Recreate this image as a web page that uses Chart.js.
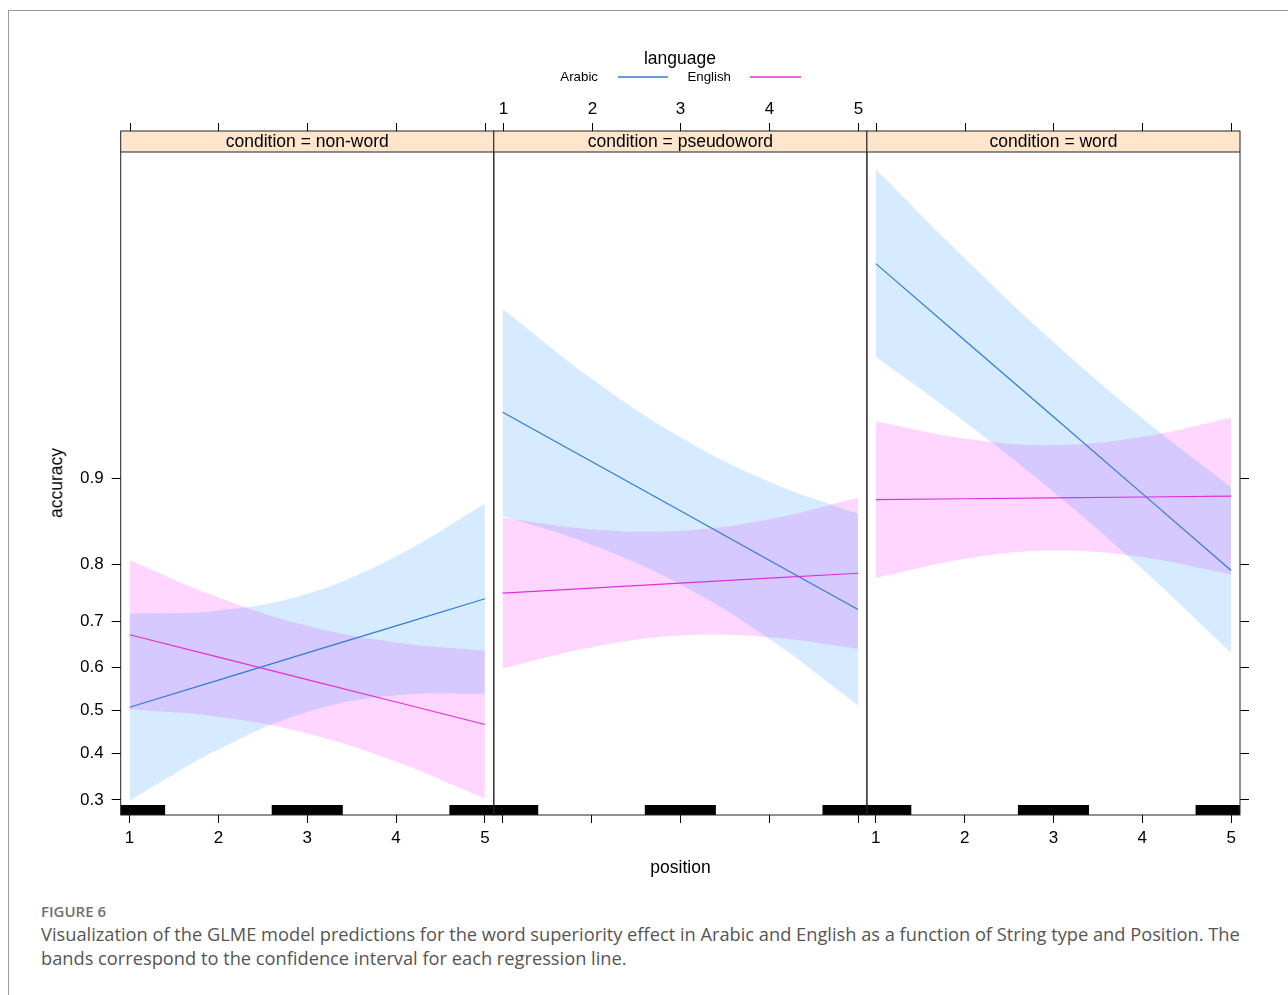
<!DOCTYPE html>
<html>
<head>
<meta charset="utf-8">
<script src="https://cdn.jsdelivr.net/npm/chart.js@4.4.1/dist/chart.umd.min.js"></script>
<style>
  body { margin: 0; background: #fff; }
  #page { position: relative; width: 1288px; height: 995px; overflow: hidden; font-family: "Liberation Sans", Arial, sans-serif; color: #000; }
  #chart { position: absolute; left: 0; top: 0; }
  .frame { position: absolute; left: 8px; top: 10px; width: 1290px; height: 990px; border-left: 1px solid #9a9a9a; border-top: 1px solid #9a9a9a; }
  .t { position: absolute; white-space: nowrap; line-height: 1; }
  .caption { position: absolute; left: 41px; font-family: "Open Sans", "Noto Sans", sans-serif; color: #555; white-space: nowrap; }
</style>
</head>
<body>
<div id="page">
  <div class="frame"></div>
  <canvas id="chart" width="1288" height="880"></canvas>

  <div class="t" style="left:680px; top:59px; font-size:17.5px; transform:translate(-50%,-50%);">language</div>
  <div class="t" style="left:598px; top:77px; font-size:13.3px; transform:translate(-100%,-50%);">Arabic</div>
  <div class="t" style="left:731px; top:77px; font-size:13.3px; transform:translate(-100%,-50%);">English</div>

  <div class="t" style="left:57px; top:483px; font-size:17.5px; transform:translate(-50%,-50%) rotate(-90deg);">accuracy</div>
  <div class="t" style="left:680.5px; top:868px; font-size:17.5px; transform:translate(-50%,-50%);">position</div>

  <div class="caption" style="top:901px; font-size:15px; font-weight:600; color:#707070;">FIGURE 6</div>
  <div class="caption" style="top:922px; font-size:18.25px; line-height:23.5px;">Visualization of the GLME model predictions for the word superiority effect in Arabic and English as a function of String type and Position. The<br>bands correspond to the confidence interval for each regression line.</div>
</div>

<script>
// categories and ticks
const positions = [1, 2, 3, 4, 5];
const conditions = ['non-word', 'pseudoword', 'word'];
const languages = ['Arabic', 'English'];
const accuracyTicks = [0.3, 0.4, 0.5, 0.6, 0.7, 0.8, 0.9];
const positionTicks = [1, 2, 3, 4, 5];
const rugPositions = [1, 3, 5];

// predicted accuracy (fit, upper and lower band) at positions 1..5
// condition = non-word
const nonwordArabicFit    = [0.5077, 0.5715, 0.6330, 0.6904, 0.7423];
const nonwordArabicUpper  = [0.7142, 0.7203, 0.7512, 0.8116, 0.8763];
const nonwordArabicLower  = [0.2986, 0.4085, 0.4963, 0.5359, 0.5394];
const nonwordEnglishFit   = [0.6720, 0.6237, 0.5725, 0.5200, 0.4668];
const nonwordEnglishUpper = [0.8058, 0.7446, 0.6904, 0.6559, 0.6381];
const nonwordEnglishLower = [0.5027, 0.4850, 0.4457, 0.3811, 0.3030];
// condition = pseudoword
const pseudoArabicFit     = [0.9440, 0.9136, 0.8689, 0.8058, 0.7223];
const pseudoArabicUpper   = [0.9782, 0.9587, 0.9301, 0.8973, 0.8657];
const pseudoArabicLower   = [0.8636, 0.8279, 0.7675, 0.6635, 0.5122];
const pseudoEnglishFit    = [0.7523, 0.7610, 0.7696, 0.7778, 0.7858];
const pseudoEnglishUpper  = [0.8612, 0.8478, 0.8458, 0.8596, 0.8824];
const pseudoEnglishLower  = [0.5980, 0.6454, 0.6704, 0.6668, 0.6422];
// condition = word
const wordArabicFit       = [0.9857, 0.9709, 0.9417, 0.8864, 0.7902];
const wordArabicUpper     = [0.9941, 0.9864, 0.9704, 0.9409, 0.8924];
const wordArabicLower     = [0.9661, 0.9391, 0.8880, 0.7926, 0.6332];
const wordEnglishFit      = [0.8806, 0.8814, 0.8823, 0.8831, 0.8839];
const wordEnglishUpper    = [0.9393, 0.9293, 0.9251, 0.9304, 0.9412];
const wordEnglishLower    = [0.7783, 0.8078, 0.8197, 0.8103, 0.7838];

const panelSeries = [
  [[nonwordArabicFit, nonwordArabicUpper, nonwordArabicLower], [nonwordEnglishFit, nonwordEnglishUpper, nonwordEnglishLower]],
  [[pseudoArabicFit, pseudoArabicUpper, pseudoArabicLower], [pseudoEnglishFit, pseudoEnglishUpper, pseudoEnglishLower]],
  [[wordArabicFit, wordArabicUpper, wordArabicLower], [wordEnglishFit, wordEnglishUpper, wordEnglishLower]]
];

// y axis is on the logit scale, like the effects plot
const logit = p => Math.log(p / (1 - p));
const yLogitRange = [-0.99, 5.29];

const FONT = '"Liberation Sans", Arial, sans-serif';
const lineColors = { Arabic: '#2f7bd8', English: '#e030d8' };
const bandColors = { Arabic: 'rgba(0,128,255,0.16)', English: 'rgba(255,0,255,0.16)' };
const panelAxes = ['x1', 'x2', 'x3'];
const STRIP = 21;

const toPoints = vals => vals.map((v, i) => ({ x: positions[i], y: logit(v) }));

const datasets = [];
panelSeries.forEach((pair, i) => {
  pair.forEach((s, j) => {
    datasets.push({
      label: languages[j] + ' ' + conditions[i],
      data: toPoints(s[0]),
      xAxisID: panelAxes[i], yAxisID: 'y',
      borderColor: lineColors[languages[j]], borderWidth: 1.2,
      pointRadius: 0, fill: false, tension: 0, order: 0
    });
  });
});
panelSeries.forEach((pair, i) => {
  pair.forEach((s, j) => {
    const lang = languages[j];
    datasets.push({
      label: lang + ' upper', data: toPoints(s[1]),
      xAxisID: panelAxes[i], yAxisID: 'y',
      borderColor: 'rgba(0,0,0,0)', borderWidth: 0, pointRadius: 0,
      backgroundColor: bandColors[lang], fill: '+1', tension: 0.4, order: 1
    });
    datasets.push({
      label: lang + ' lower', data: toPoints(s[2]),
      xAxisID: panelAxes[i], yAxisID: 'y',
      borderColor: 'rgba(0,0,0,0)', borderWidth: 0, pointRadius: 0,
      fill: false, tension: 0.4, order: 1
    });
  });
});

function xAxis(showLabels) {
  return {
    type: 'linear', position: 'bottom', stack: 'panels', stackWeight: 1,
    min: 0.9, max: 5.1,
    afterBuildTicks: s => { s.ticks = positionTicks.map(v => ({ value: v })); },
    afterFit: s => { s.height = 40; },
    grid: { drawOnChartArea: false, drawTicks: true, tickLength: 8, color: '#000', lineWidth: 1 },
    border: { display: false },
    ticks: { display: showLabels, autoSkip: false, maxRotation: 0, padding: 5, color: '#000',
             font: { family: FONT, size: 17 }, callback: v => String(v) }
  };
}

function yAxis(side) {
  return {
    type: 'linear', position: side, min: yLogitRange[0], max: yLogitRange[1],
    afterBuildTicks: s => { s.ticks = accuracyTicks.map(p => ({ value: logit(p) })); },
    afterFit: s => { s.width = side === 'left' ? 40 : 10; },
    grid: { drawOnChartArea: false, drawTicks: true, tickLength: 9, color: '#000', lineWidth: 1 },
    border: { display: false },
    ticks: { display: side === 'left', padding: 8, color: '#000', font: { family: FONT, size: 17 },
             callback: (v, i) => accuracyTicks[i].toFixed(1) }
  };
}

// strips, panel boxes, top axis, rug and legend keys
const latticeFrame = {
  id: 'latticeFrame',
  afterDatasetsDraw(chart) {
    const { ctx, chartArea } = chart;
    const top = chartArea.top, bottom = chartArea.bottom;
    const stripTop = top - STRIP;

    ctx.save();
    ctx.beginPath();
    ctx.rect(chartArea.left, top, chartArea.right - chartArea.left, bottom - top);
    ctx.clip();
    ctx.fillStyle = '#000';
    panelAxes.forEach(id => {
      const sc = chart.scales[id];
      rugPositions.forEach(p => {
        const a = sc.getPixelForValue(p - 0.4), b = sc.getPixelForValue(p + 0.4);
        ctx.fillRect(a, bottom - 10, b - a, 10);
      });
    });
    ctx.restore();

    ctx.save();
    panelAxes.forEach((id, i) => {
      const sc = chart.scales[id];
      ctx.fillStyle = '#ffe5cc';
      ctx.fillRect(sc.left, stripTop, sc.width, STRIP);
      ctx.strokeStyle = '#222';
      ctx.lineWidth = 1;
      ctx.strokeRect(sc.left, stripTop, sc.width, bottom - stripTop);
      ctx.beginPath();
      ctx.moveTo(sc.left, top);
      ctx.lineTo(sc.right, top);
      ctx.stroke();

      ctx.fillStyle = '#000';
      ctx.font = '17.5px ' + FONT;
      ctx.textAlign = 'center';
      ctx.textBaseline = 'middle';
      ctx.fillText('condition = ' + conditions[i], (sc.left + sc.right) / 2, stripTop + STRIP / 2 + 1);

      ctx.strokeStyle = '#000';
      positionTicks.forEach(v => {
        const x = Math.round(sc.getPixelForValue(v)) + 0.5;
        ctx.beginPath();
        ctx.moveTo(x, stripTop - 8);
        ctx.lineTo(x, stripTop);
        ctx.stroke();
        if (i === 1) {
          ctx.font = '17px ' + FONT;
          ctx.fillText(String(v), x, stripTop - 22);
        }
      });
    });

    // legend key lines, next to the HTML labels
    const keys = [[618, 668, lineColors.Arabic], [750, 801, lineColors.English]];
    ctx.lineWidth = 1.5;
    keys.forEach(([x0, x1, col]) => {
      ctx.strokeStyle = col;
      ctx.beginPath();
      ctx.moveTo(x0, 77);
      ctx.lineTo(x1, 77);
      ctx.stroke();
    });
    ctx.restore();
  }
};

new Chart(document.getElementById('chart'), {
  type: 'line',
  data: { datasets },
  options: {
    responsive: false,
    animation: false,
    layout: { padding: { left: 80.7, right: 38, top: 152, bottom: 25 } },
    plugins: { legend: { display: false }, tooltip: { enabled: false } },
    scales: {
      x1: xAxis(true),
      x2: xAxis(false),
      x3: xAxis(true),
      y: yAxis('left'),
      yr: yAxis('right')
    }
  },
  plugins: [latticeFrame]
});
</script>
</body>
</html>
